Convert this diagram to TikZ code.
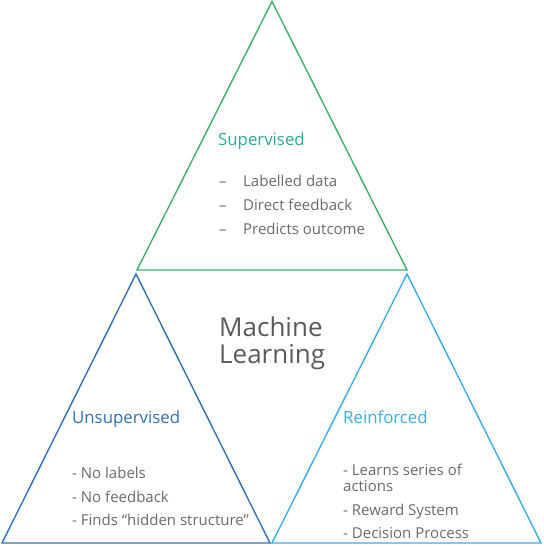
\documentclass[tikz,border=0pt]{standalone}
\usepackage{fontspec}
\setmainfont{Open Sans}
\definecolor{supline}{HTML}{3FAE6C}
\definecolor{suptext}{HTML}{2FA898}
\definecolor{unsup}{HTML}{3170B2}
\definecolor{reinf}{HTML}{3AAEDF}
\definecolor{body}{HTML}{6A6A6A}
\definecolor{titlegrey}{HTML}{5A5A5A}
\begin{document}
\begin{tikzpicture}[x=1pt,y=-1pt,
  tri/.style={line width=1.4pt, line join=miter},
  head/.style={anchor=base west, inner sep=0pt, font=\fontsize{16.8}{19}\selectfont},
  item/.style={anchor=base west, inner sep=0pt, text=body, font=\fontsize{15}{18}\selectfont},
  big/.style={anchor=base west, inner sep=0pt, text=titlegrey, font=\fontsize{26}{30}\selectfont}]
\useasboundingbox (0,0) rectangle (543,553);
% triangles
\draw[tri, supline] (272,1.5) -- (407,270) -- (137,270) -- cycle;
\draw[tri, unsup] (136,274) -- (270,543) -- (2,543) -- cycle;
\draw[tri, reinf] (407,274) -- (541,543) -- (272,543) -- cycle;
% supervised
\node[head, text=suptext] (sup) at (218,146) {Supervised};
\node[item] (s1d) at (219,187) {–};
\node[item] (s1) at (243,187) {Labelled data};
\node[item] (s2d) at (219,211) {–};
\node[item] (s2) at (243,211) {Direct feedback};
\node[item] (s3d) at (219,234) {–};
\node[item] (s3) at (243,234) {Predicts outcome};
% centre
\node[big] (ml1) at (219,336) {Machine};
\node[big] (ml2) at (219,363) {Learning};
% unsupervised
\node[head, text=unsup] (uns) at (72,423) {Unsupervised};
\node[item] (u1) at (72,478) {- No labels};
\node[item] (u2) at (72,502) {- No feedback};
\node[item] (u3) at (72,525) {- Finds “hidden structure”};
% reinforced
\node[head, text=reinf] (rei) at (343,423) {Reinforced};
\node[item] (r1) at (343,475) {- Learns series of};
\node[item] (r1b) at (343,491) {actions};
\node[item] (r2) at (343,515) {- Reward System};
\node[item] (r3) at (343,538) {- Decision Process};
\end{tikzpicture}
\end{document}
